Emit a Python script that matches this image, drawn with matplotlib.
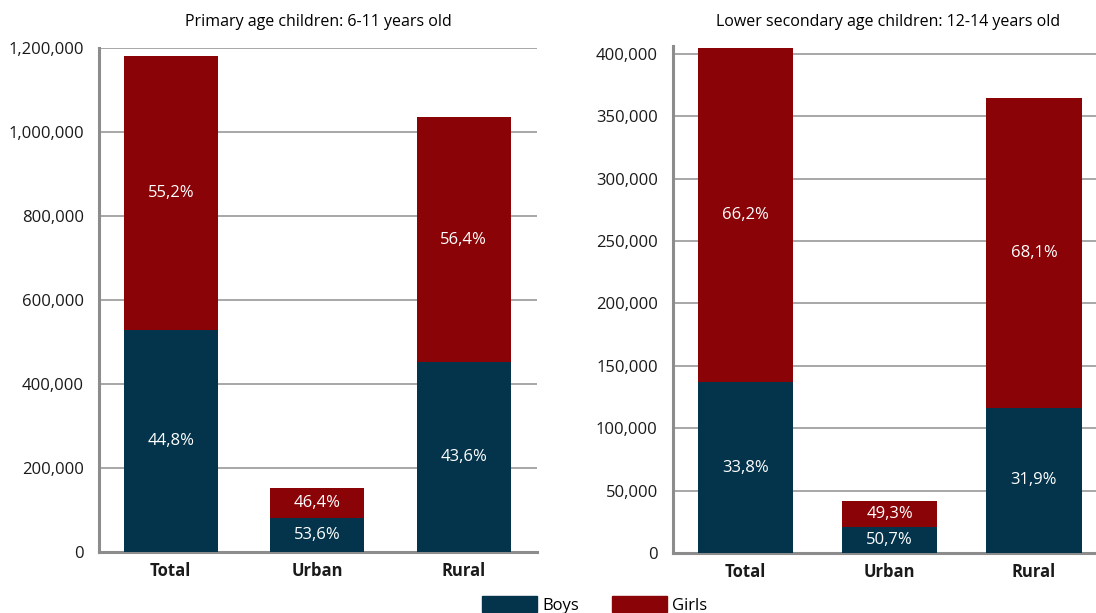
import numpy as np
import matplotlib.pyplot as plt
from matplotlib.patches import Patch
from matplotlib.ticker import FuncFormatter

plt.rcParams['font.family'] = ['Open Sans', 'DejaVu Sans']

categories = ['Total', 'Urban', 'Rural']

# out-of-school children, totals and share by sex (%)
primary_total = [1181000, 152000, 1036000]
primary_boys_pct = [44.8, 53.6, 43.6]
primary_girls_pct = [55.2, 46.4, 56.4]

secondary_total = [404800, 41800, 364700]
secondary_boys_pct = [33.8, 50.7, 31.9]
secondary_girls_pct = [66.2, 49.3, 68.1]

BOYS = '#03344b'
GIRLS = '#8a0306'
GRID = '#a0a0a0'
FS = 12


def pct(v):
    return f'{v:.1f}%'.replace('.', ',')


def stacked(ax, totals, boys_pct, girls_pct, ymax, step, width):
    x = np.arange(len(categories))
    totals = np.array(totals, dtype=float)
    boys = totals * np.array(boys_pct) / 100
    girls = totals * np.array(girls_pct) / 100
    ax.bar(x, boys, width, color=BOYS, zorder=3)
    ax.bar(x, girls, width, bottom=boys, color=GIRLS, zorder=3)
    for i in range(len(x)):
        ax.text(x[i], boys[i] / 2, pct(boys_pct[i]),
                ha='center', va='center', color='white', fontsize=FS, zorder=4)
        ax.text(x[i], boys[i] + girls[i] / 2, pct(girls_pct[i]),
                ha='center', va='center', color='white', fontsize=FS, zorder=4)

    ax.set_ylim(0, ymax)
    ax.set_yticks(np.arange(0, ymax, step))
    ax.yaxis.set_major_formatter(FuncFormatter(lambda v, p: f'{int(v):,}'))
    ax.yaxis.grid(True, color=GRID, lw=1.3, zorder=0)
    ax.set_xticks(x)
    ax.set_xticklabels(categories)
    for lab in ax.get_xticklabels():
        lab.set_fontweight('bold')
    ax.tick_params(axis='both', length=0, labelsize=FS, colors='#1a1a1a')
    ax.tick_params(axis='y', pad=11)
    ax.tick_params(axis='x', pad=7)
    for s in ['top', 'right']:
        ax.spines[s].set_visible(False)
    for s in ['left', 'bottom']:
        ax.spines[s].set_color('#8c8c8c')
        ax.spines[s].set_linewidth(2.2)


fig = plt.figure(figsize=(10.96, 6.13), dpi=100)

# 6-11 years
ax1 = fig.add_axes([99 / 1096, 61 / 613, 438 / 1096, 504 / 613])
stacked(ax1, primary_total, primary_boys_pct, primary_girls_pct, 1200000, 200000, 0.64)
ax1.set_yticks(np.arange(0, 1200001, 200000))
ax1.set_xlim(-0.49, 2.5)

# 12-14 years
ax2 = fig.add_axes([673 / 1096, 60 / 613, 423 / 1096, 507 / 613])
stacked(ax2, secondary_total, secondary_boys_pct, secondary_girls_pct, 406400, 50000, 0.66)
ax2.set_xlim(-0.5, 2.43)

fig.text(318 / 1096, 1 - 22 / 613, 'Primary age children: 6-11 years old',
         ha='center', va='center', fontsize=11.5)
fig.text(888 / 1096, 1 - 22 / 613, 'Lower secondary age children: 12-14 years old',
         ha='center', va='center', fontsize=11.5)

handles = [Patch(color=BOYS, label='Boys'), Patch(color=GIRLS, label='Girls')]
fig.legend(handles=handles, loc='center', bbox_to_anchor=(595 / 1096, 1 - 605 / 613),
           ncol=2, frameon=False, fontsize=FS, handlelength=3.3,
           handleheight=1.05, columnspacing=2.0, handletextpad=0.3, borderpad=0)

fig.savefig('out.png', dpi=100)
